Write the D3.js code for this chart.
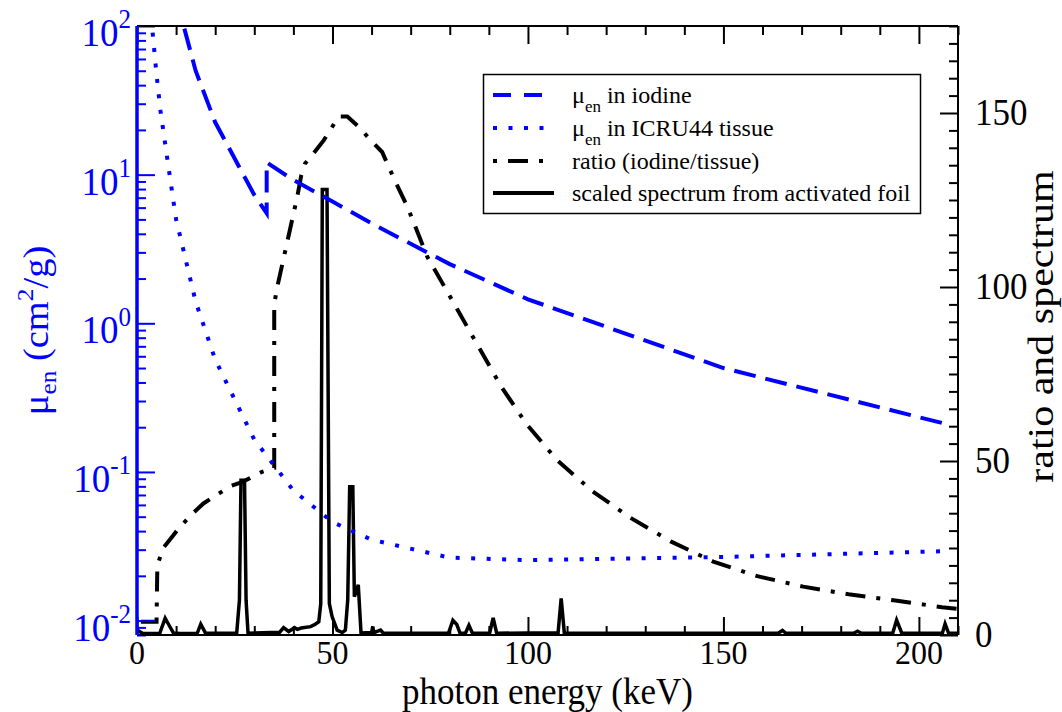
<!DOCTYPE html>
<html>
<head>
<meta charset="utf-8">
<script src="https://cdn.jsdelivr.net/npm/d3@7"></script>
<style>
  html, body { margin: 0; padding: 0; background: #fff; }
  svg { display: block; }
  text { font-family: "Liberation Serif", "Times New Roman", serif; }
</style>
</head>
<body>
<svg id="chart" width="1062" height="712"></svg>
<script>
// Energies in keV and mass energy-absorption coefficients (cm^2/g)
const iodineE   = [10, 15, 20, 30, 33.17, 33.17, 40, 50, 60, 80, 100, 150, 207];
const iodineMu  = [155, 50, 22.5, 7.3, 5.5, 12.1, 9.2, 6.6, 4.7, 2.5, 1.45, 0.50, 0.21];

const tissueE   = [3, 4, 5, 6, 8, 10, 15, 20, 30, 40, 50, 60, 80, 100, 150, 207];
const tissueMu  = [185, 90, 47, 27, 11.5, 5.0, 1.4, 0.57, 0.165, 0.075, 0.046, 0.035, 0.0265, 0.0255, 0.0268, 0.0293];

// Ratio iodine/tissue (right axis)
const ratioE = [1, 5.0, 5.2, 6.7, 9, 11, 14.5, 17, 21, 24, 27, 32, 35.1, 35.1, 35.8, 41, 42, 43,
                44.8, 47.8, 51.6, 53.8, 57.2, 59.7, 62.7, 64.0, 65.7, 69.2, 70.7, 74.3, 80, 85,
                93.1, 99.7, 107.4, 116.4, 126.2, 136.5, 147.4, 158.7, 170.4, 182, 194, 205.9, 210];
const ratioV = [3.8, 3.8, 20, 25, 28.2, 31.1, 35.2, 37.8, 40.7, 42.8, 44.0, 46.9, 48, 95, 99.6, 126, 132, 135.5,
                137.9, 142.2, 149, 149, 145.5, 142.2, 138.8, 135.5, 131.2, 123, 118.7, 108.6, 97.4, 87.5,
                71.5, 60.5, 50.3, 41.4, 33.7, 26.9, 21.1, 16.9, 13.9, 11.7, 9.9, 8.0, 7.5];

// Scaled spectrum from the activated foil (right axis)
const specE = [0, 1.5, 5.8, 6.3, 7.2, 8.2, 9.3, 11, 15.4, 16.3, 17.5, 25.5, 26.2, 26.6, 27.5, 27.9, 28.4,
               36.5, 37.5, 38.8, 40.3, 41, 42, 44.4, 45.6, 46.5, 47.0, 47.4, 48.6, 49.2, 49.9, 50.4, 51.2,
               52.5, 53.3, 53.9, 54.4, 55.2, 55.6, 56.6, 57.3, 60, 60.3, 60.6, 62.3, 63, 79.7, 80.8, 81.8,
               82.6, 84, 84.9, 85.8, 90.2, 91.1, 92, 100, 107.7, 108.5, 109.3, 164, 165.1, 166, 183.3,
               184.3, 185.3, 193.3, 194.3, 195.6, 206, 206.7, 207.6, 210];
const specV = [1.4, 0.4, 0.4, 2, 4.8, 2.8, 0.6, 0.4, 0.5, 3.1, 0.6, 0.5, 10, 44.5, 44.5, 10, 0.5,
               0.8, 2.1, 1.0, 2.1, 1.6, 2.0, 2.4, 3.1, 3.8, 9, 128, 128, 9, 5.3, 3.8, 1.4,
               0.7, 1.4, 10, 42.6, 42.6, 11, 14.4, 0.6, 0.7, 2.4, 0.7, 1.4, 0.5, 0.6, 4.2, 3.0,
               0.6, 0.5, 2.8, 0.5, 0.5, 4.9, 0.5, 0.6, 0.6, 10.5, 0.6, 0.5, 1.3, 0.5, 0.5,
               1.1, 0.5, 0.5, 4.3, 0.6, 0.5, 3.2, 0.5, 0.5];

const xMajor = [0, 50, 100, 150, 200];
const yLeftMajor = [0.01, 0.1, 1, 10, 100];
const yLeftExp = ["-2", "-1", "0", "1", "2"];
const yRightMajor = [0, 50, 100, 150];

const BLUE = "#0000ff";
const svg = d3.select("#chart");
const L = 137, R = 958, T = 26, B = 635;

const x  = d3.scaleLinear().domain([0, 210]).range([L, R]);
const yL = d3.scaleLog().domain([0.008, 100]).range([B, T]);
const yR = d3.scaleLinear().domain([0, 175]).range([B, T]);

svg.append("defs").append("clipPath").attr("id", "plot")
  .append("rect").attr("x", L).attr("y", T).attr("width", R - L).attr("height", B - T);

// ---- data curves ----
const gData = svg.append("g").attr("clip-path", "url(#plot)");
const lineL = d3.line().x(d => x(d[0])).y(d => yL(d[1]));
const lineR = d3.line().x(d => x(d[0])).y(d => yR(d[1]));

gData.append("path").datum(d3.zip(specE, specV)).attr("d", lineR)
  .attr("fill", "none").attr("stroke", "#000").attr("stroke-width", 3.5).attr("stroke-linejoin", "miter");

gData.append("path").datum(d3.zip(ratioE, ratioV)).attr("d", lineR)
  .attr("fill", "none").attr("stroke", "#000").attr("stroke-width", 4)
  .attr("stroke-dasharray", "20,11,4,11");

gData.append("path").datum(d3.zip(tissueE, tissueMu)).attr("d", lineL)
  .attr("fill", "none").attr("stroke", BLUE).attr("stroke-width", 4)
  .attr("stroke-dasharray", "4,11.5");

gData.append("path").datum(d3.zip(iodineE, iodineMu)).attr("d", lineL)
  .attr("fill", "none").attr("stroke", BLUE).attr("stroke-width", 4)
  .attr("stroke-dasharray", "22,10");

// ---- frame and axes ----
const xMinor = d3.range(0, 211, 10).filter(v => !xMajor.includes(v));
const yRMinor = d3.range(0, 176, 5).filter(v => !yRightMajor.includes(v));
const yLMinor = [];
[0.001, 0.01, 0.1, 1, 10].forEach(dec => {
  for (let k = 2; k <= 9; k++) {
    const v = dec * k;
    if (v >= 0.008 && v < 100) yLMinor.push(v);
  }
});

function tickAxis(axis, vals, size, color, transform) {
  const g = svg.append("g").attr("transform", transform)
    .call(axis.tickValues(vals).tickSize(size).tickFormat(""));
  g.select(".domain").remove();
  g.selectAll("line").attr("stroke", color).attr("stroke-width", 2);
  return g;
}
// bottom & top
tickAxis(d3.axisBottom(x), xMajor, -18, "#000", `translate(0,${B})`);
tickAxis(d3.axisBottom(x), xMinor, -9, "#000", `translate(0,${B})`);
tickAxis(d3.axisTop(x), xMajor, -18, "#000", `translate(0,${T})`);
tickAxis(d3.axisTop(x), xMinor, -9, "#000", `translate(0,${T})`);
// right
tickAxis(d3.axisRight(yR), yRightMajor, -18, "#000", `translate(${R},0)`);
tickAxis(d3.axisRight(yR), yRMinor, -9, "#000", `translate(${R},0)`);
// left (blue)
tickAxis(d3.axisLeft(yL), yLeftMajor, -18, BLUE, `translate(${L},0)`);
tickAxis(d3.axisLeft(yL), yLMinor, -9, BLUE, `translate(${L},0)`);

// frame lines
svg.append("line").attr("x1", L).attr("x2", R).attr("y1", T).attr("y2", T).attr("stroke", "#000").attr("stroke-width", 2);
svg.append("line").attr("x1", L).attr("x2", R).attr("y1", B).attr("y2", B).attr("stroke", "#000").attr("stroke-width", 2);
svg.append("line").attr("x1", R).attr("x2", R).attr("y1", T).attr("y2", B).attr("stroke", "#000").attr("stroke-width", 2);
svg.append("line").attr("x1", L).attr("x2", L).attr("y1", T).attr("y2", B).attr("stroke", BLUE).attr("stroke-width", 3.5);

// ---- tick labels ----
svg.append("g").selectAll("text").data(xMajor).join("text")
  .attr("transform", d => `translate(${x(d)},664) scale(1,1.05)`)
  .attr("text-anchor", "middle").attr("font-size", 32).attr("fill", "#000")
  .text(d => d);

svg.append("g").selectAll("text").data(yRightMajor).join("text")
  .attr("transform", d => `translate(975,${yR(d) + 12}) scale(1,1.1)`)
  .attr("text-anchor", "start").attr("font-size", 35).attr("fill", "#000")
  .text(d => d);

const leftLab = svg.append("g").selectAll("text").data(d3.zip(yLeftMajor, yLeftExp)).join("text")
  .attr("transform", d => `translate(131,${yL(d[0]) + 20}) scale(1,1.1)`)
  .attr("text-anchor", "end").attr("font-size", 37).attr("fill", BLUE);
leftLab.append("tspan").text("10");
leftLab.append("tspan").attr("dy", -16).attr("font-size", 25).text(d => d[1]);

// ---- axis titles ----
svg.append("text").attr("transform", `translate(${(L + R) / 2},704) scale(1,1.1)`)
  .attr("text-anchor", "middle")
  .attr("font-size", 35).attr("fill", "#000").text("photon energy (keV)");

svg.append("text").attr("transform", `translate(1053,${(T + B) / 2 - 4}) rotate(-90) scale(1.2,1)`)
  .attr("text-anchor", "middle").attr("font-size", 35).attr("fill", "#000").text("ratio and spectrum");

const yt = svg.append("text").attr("transform", `translate(48,${(T + B) / 2}) rotate(-90) scale(1.1,1)`)
  .attr("text-anchor", "middle").attr("font-size", 35).attr("fill", BLUE);
yt.append("tspan").text("\u03bc");
yt.append("tspan").attr("dy", 8).attr("font-size", 23).text("en");
yt.append("tspan").attr("dy", -8).text(" (cm");
yt.append("tspan").attr("dy", -15).attr("font-size", 23).text("2");
yt.append("tspan").attr("dy", 15).text("/g)");

// ---- legend ----
const lg = svg.append("g");
lg.append("rect").attr("x", 483.5).attr("y", 74.5).attr("width", 437).attr("height", 139)
  .attr("fill", "#fff").attr("stroke", "#000").attr("stroke-width", 1.5);

const legendItems = [
  { y: 95,  stroke: BLUE,  dash: "18,13", off: 0,  x2: 546, label: ["\u03bc", "en", " in iodine"] },
  { y: 128, stroke: BLUE,  dash: "4,11.5", off: 0, x2: 548, label: ["\u03bc", "en", " in ICRU44 tissue"] },
  { y: 161, stroke: "#000", dash: "4,11,20,11", off: 0, x2: 550, label: ["ratio (iodine/tissue)"] },
  { y: 193, stroke: "#000", dash: null, off: 0, x2: 554, label: ["scaled spectrum from activated foil"] }
];
legendItems.forEach(it => {
  const ln = lg.append("line").attr("x1", 493).attr("x2", it.x2).attr("y1", it.y).attr("y2", it.y)
    .attr("stroke", it.stroke).attr("stroke-width", 4);
  if (it.dash) ln.attr("stroke-dasharray", it.dash).attr("stroke-dashoffset", it.off);
  const t = lg.append("text").attr("x", 572).attr("y", it.y + 8).attr("font-size", 24).attr("fill", "#000");
  if (it.label.length === 3) {
    t.append("tspan").text(it.label[0]);
    t.append("tspan").attr("dy", 9).attr("font-size", 17).text(it.label[1]);
    t.append("tspan").attr("dy", -9).text(it.label[2]);
  } else {
    t.text(it.label[0]);
  }
});
</script>
</body>
</html>
